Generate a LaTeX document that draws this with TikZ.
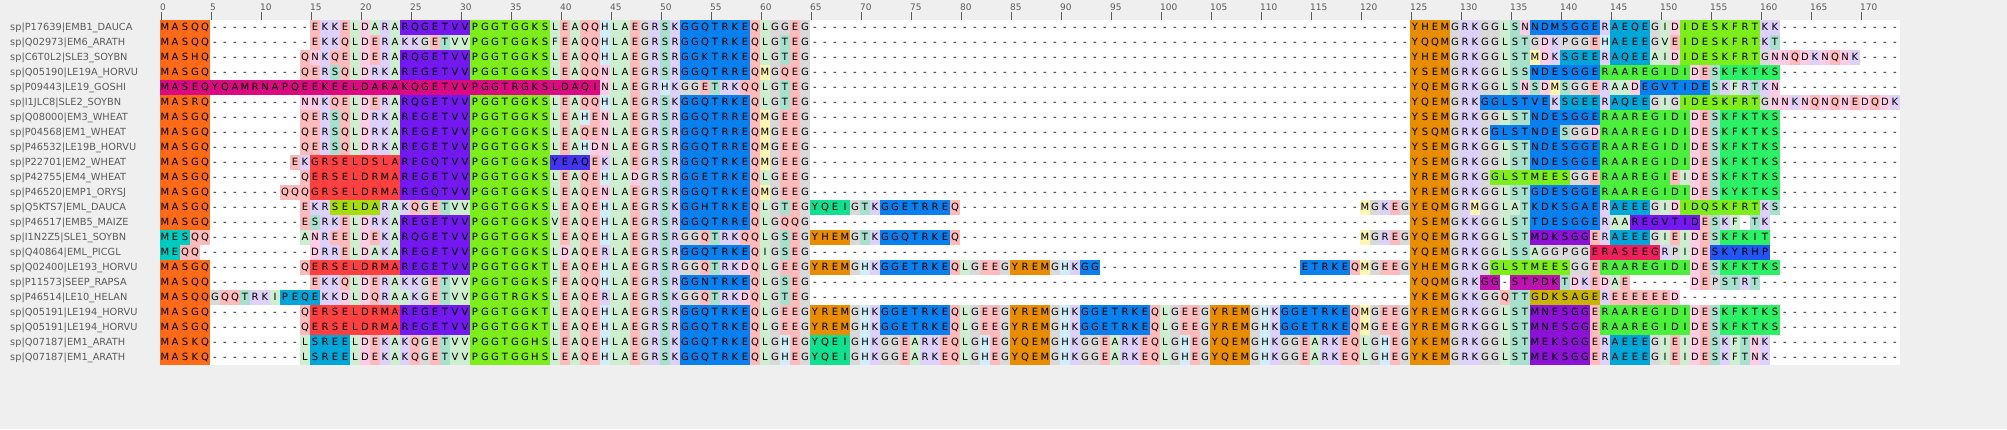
\documentclass[tikz,border=0pt]{standalone}
\usepackage{fontspec}
\setmainfont{DejaVu Sans}
% pastel residue colours
\definecolor{rcA}{HTML}{CDEFD0}\definecolor{rcI}{HTML}{CDEFD0}\definecolor{rcL}{HTML}{CDEFD0}
\definecolor{rcV}{HTML}{CDEFD0}\definecolor{rcF}{HTML}{CDEFD0}\definecolor{rcW}{HTML}{CDEFD0}
\definecolor{rcC}{HTML}{FFF0A0}
\definecolor{rcE}{HTML}{FFBBBB}\definecolor{rcQ}{HTML}{FFBBBB}
\definecolor{rcD}{HTML}{FFCCE5}\definecolor{rcN}{HTML}{FFCCE5}
\definecolor{rcK}{HTML}{DDD0FB}\definecolor{rcR}{HTML}{DDD0FB}
\definecolor{rcS}{HTML}{A8E0CE}\definecolor{rcT}{HTML}{A8E0CE}
\definecolor{rcG}{HTML}{D9D9D9}\definecolor{rcP}{HTML}{D9D9D9}
\definecolor{rcH}{HTML}{CFEEFA}\definecolor{rcM}{HTML}{FFF6B3}\definecolor{rcY}{HTML}{FFE4A0}
% block colours
\definecolor{bcO}{HTML}{FD6B18}\definecolor{bcV}{HTML}{7318EF}\definecolor{bcL}{HTML}{7DED1B}
\definecolor{bcB}{HTML}{0A80EE}\definecolor{bcM}{HTML}{DC0A80}\definecolor{bcT}{HTML}{00CBBF}
\definecolor{bcR}{HTML}{FF4040}\definecolor{bcY}{HTML}{A8DC0C}\definecolor{bcI}{HTML}{4434F0}
\definecolor{bcA}{HTML}{E88C00}\definecolor{bcC}{HTML}{00A6D8}\definecolor{bcG}{HTML}{4CF03C}
\definecolor{bcS}{HTML}{2CF066}\definecolor{bcP}{HTML}{8C12D6}\definecolor{bcK}{HTML}{F0205E}
\definecolor{bcU}{HTML}{2255F5}\definecolor{bcW}{HTML}{BF10B0}\definecolor{bcD}{HTML}{C9B300}
\definecolor{bcE}{HTML}{10E090}
\definecolor{bgc}{HTML}{EFEFEF}\definecolor{namegray}{HTML}{5A5A5A}
\newcount\colc \newcount\rowr \newcount\gcnt
\def\curcode{p}
\newcommand\resfnt{\fontsize{10}{12}\selectfont}
\def\drawcell#1{%
  \edef\xl{\the\numexpr160+10*\colc\relax}%
  \edef\xc{\the\numexpr165+10*\colc\relax}%
  \edef\yt{\the\numexpr20+15*\rowr\relax}%
  \if p\curcode\edef\fc{rc#1}\else\edef\fc{bc\curcode}\fi
  \if .\curcode\else\fill[fill=\fc] (\xl,\yt) rectangle ++(10,15);\fi
  \node[res] at (\xc,\yt+10.8) {#1};%
  \global\advance\colc by 1\relax}
\def\sg#1#2{\def\curcode{#1}\segloop#2\relax}
\def\segloop#1{\ifx#1\relax\else\drawcell{#1}\expandafter\segloop\fi}
\def\gp#1{\gcnt=#1\relax\gploop}
\def\gploop{\ifnum\gcnt>0 \def\curcode{.}\drawcell{-}\advance\gcnt by -1 \expandafter\gploop\fi}
\def\seqrow#1#2{\global\colc=0\relax\global\rowr=#1\relax
  \node[nm] (n#1) at (10,20+15*#1+10.8) {#2};}
\tikzset{res/.style={inner sep=0pt,anchor=base,font=\resfnt,text=black},
  nm/.style={inner sep=0pt,anchor=base west,font=\fontsize{9.8}{12}\selectfont,text=namegray},
  rl/.style={inner sep=0pt,anchor=base west,font=\fontsize{9}{11}\selectfont,text=namegray},
  tick/.style={draw=namegray,line width=1pt}}
\begin{document}
\begin{tikzpicture}[x=1pt,y=-1pt]
\useasboundingbox (0,0) rectangle (2007,429);
\fill[bgc] (0,0) rectangle (2007,429);
\fill[white] (160,20) rectangle (1900,365);
\foreach \i in {0,5,...,170}{
  \draw[tick] (161.5+10*\i,12) -- (161.5+10*\i,19.5);
  \node[rl] (t\i) at (160+10*\i,10) {\i};}
\seqrow{0}{sp|P17639|EMB1\_DAUCA}
\sg{O}{MASQQ}\gp{10}\sg{p}{EKKELDARA}\sg{V}{RQGETVV}\sg{L}{PGGTGGKS}\sg{p}{LEAQQHLAEGRSK}\sg{B}{GGQTRKE}\sg{p}{QLGGEG}\gp{60}\sg{A}{YHEM}\sg{p}{GRKGGLSN}\sg{B}{NDMSGGE}\sg{p}{R}\sg{C}{AEQE}\sg{p}{GID}\sg{L}{IDESKFRT}\sg{p}{KK}\gp{12}
\seqrow{1}{sp|Q02973|EM6\_ARATH}
\sg{O}{MASQQ}\gp{10}\sg{p}{EKKQLDERAKKGETVV}\sg{L}{PGGTGGKS}\sg{p}{FEAQQHLAEGRSR}\sg{B}{GGQTRKE}\sg{p}{QLGTEG}\gp{60}\sg{A}{YQQM}\sg{p}{GRKGGLSTGDKPGGEH}\sg{C}{AEEE}\sg{p}{GVE}\sg{L}{IDESKFRT}\sg{p}{KT}\gp{12}
\seqrow{2}{sp|C6T0L2|SLE3\_SOYBN}
\sg{O}{MASHQ}\gp{9}\sg{p}{QNKQELDERA}\sg{V}{RQGETVV}\sg{L}{PGGTGGKS}\sg{p}{LEAQQHLAEGRSR}\sg{B}{GGKTRKE}\sg{p}{QLGTEG}\gp{60}\sg{A}{YHEM}\sg{p}{GRKGGLSTMDK}\sg{C}{SGEE}\sg{p}{R}\sg{C}{AQEE}\sg{p}{AID}\sg{L}{IDESKFRT}\sg{p}{GNNQDKNQNK}\gp{4}
\seqrow{3}{sp|Q05190|LE19A\_HORVU}
\sg{O}{MASGQ}\gp{9}\sg{p}{QERSQLDRKA}\sg{V}{REGETVV}\sg{L}{PGGTGGKS}\sg{p}{LEAQQNLAEGRSR}\sg{B}{GGQTRRE}\sg{p}{QMGQEG}\gp{60}\sg{A}{YSEM}\sg{p}{GRKGGLSS}\sg{B}{NDESGGE}\sg{G}{RAAREGIDI}\sg{p}{DES}\sg{S}{KFKTKS}\gp{12}
\seqrow{4}{sp|P09443|LE19\_GOSHI}
\sg{M}{MASEQYQAMRNAPQEEKEELDARAKQGETVVPGGTRGKSLDAQI}\sg{p}{NLAEGRHKGGETRKQQLGTEG}\gp{60}\sg{A}{YQEM}\sg{p}{GRKGGLSNSDMSGGERAAD}\sg{B}{EGVTIDE}\sg{p}{SKFRTKN}\gp{12}
\seqrow{5}{sp|I1JLC8|SLE2\_SOYBN}
\sg{O}{MASRQ}\gp{9}\sg{p}{NNKQELDERA}\sg{V}{RQGETVV}\sg{L}{PGGTGGKS}\sg{p}{LEAQQHLAEGRSK}\sg{B}{GGQTRKE}\sg{p}{QLGTEG}\gp{60}\sg{A}{YQEM}\sg{p}{GRK}\sg{B}{GGLSTVE}\sg{p}{K}\sg{C}{SGEE}\sg{p}{R}\sg{C}{AQEE}\sg{p}{GIG}\sg{L}{IDESKFRT}\sg{p}{GNNKNQNQNEDQDK}
\seqrow{6}{sp|Q08000|EM3\_WHEAT}
\sg{O}{MASGQ}\gp{9}\sg{p}{QERSQLDRKA}\sg{V}{REGETVV}\sg{L}{PGGTGGKS}\sg{p}{LEAHENLAEGRSR}\sg{B}{GGQTRRE}\sg{p}{QMGEEG}\gp{60}\sg{A}{YSEM}\sg{p}{GRKGGLST}\sg{B}{NDESGGE}\sg{G}{RAAREGIDI}\sg{p}{DES}\sg{S}{KFKTKS}\gp{12}
\seqrow{7}{sp|P04568|EM1\_WHEAT}
\sg{O}{MASGQ}\gp{9}\sg{p}{QERSQLDRKA}\sg{V}{REGETVV}\sg{L}{PGGTGGKS}\sg{p}{LEAQENLAEGRSR}\sg{B}{GGQTRRE}\sg{p}{QMGEEG}\gp{60}\sg{A}{YSQM}\sg{p}{GRKG}\sg{B}{GLSTNDE}\sg{p}{SGGD}\sg{G}{RAAREGIDI}\sg{p}{DES}\sg{S}{KFKTKS}\gp{12}
\seqrow{8}{sp|P46532|LE19B\_HORVU}
\sg{O}{MASGQ}\gp{9}\sg{p}{QERSQLDRKA}\sg{V}{REGETVV}\sg{L}{PGGTGGKS}\sg{p}{LEAHDNLAEGRSR}\sg{B}{GGQTRRE}\sg{p}{QMGEEG}\gp{60}\sg{A}{YSEM}\sg{p}{GRKGGLST}\sg{B}{NDESGGE}\sg{G}{RAAREGIDI}\sg{p}{DES}\sg{S}{KFKTKS}\gp{12}
\seqrow{9}{sp|P22701|EM2\_WHEAT}
\sg{O}{MASGQ}\gp{8}\sg{p}{EK}\sg{R}{GRSELDSLA}\sg{V}{REGQTVV}\sg{L}{PGGTGGKS}\sg{I}{YEAQ}\sg{p}{EKLAEGRSR}\sg{B}{GGQTRKE}\sg{p}{QMGEEG}\gp{60}\sg{A}{YSEM}\sg{p}{GRKGGLST}\sg{B}{NDESGGE}\sg{G}{RAAREGIDI}\sg{p}{DES}\sg{S}{KFKTKS}\gp{12}
\seqrow{10}{sp|P42755|EM4\_WHEAT}
\sg{O}{MASGQ}\gp{9}\sg{p}{Q}\sg{R}{ERSELDRMA}\sg{V}{REGETVV}\sg{L}{PGGTGGKS}\sg{p}{LEAQEHLADGRSR}\sg{B}{GGETRKE}\sg{p}{QLGEEG}\gp{60}\sg{A}{YREM}\sg{p}{GRKG}\sg{L}{GLSTMEES}\sg{p}{GGE}\sg{G}{RAAREGI}\sg{p}{EIDES}\sg{S}{KFKTKS}\gp{12}
\seqrow{11}{sp|P46520|EMP1\_ORYSJ}
\sg{O}{MASGQ}\gp{7}\sg{p}{QQQ}\sg{R}{GRSELDRMA}\sg{V}{REGQTVV}\sg{L}{PGGTGGKS}\sg{p}{LEAQENLAEGRSR}\sg{B}{GGQTRKE}\sg{p}{QMGEEG}\gp{60}\sg{A}{YREM}\sg{p}{GRKGGLST}\sg{B}{GDESGGE}\sg{G}{RAAREGIDI}\sg{p}{DES}\sg{S}{KYKTKS}\gp{12}
\seqrow{12}{sp|Q5KTS7|EML\_DAUCA}
\sg{O}{MASGQ}\gp{9}\sg{p}{EKR}\sg{Y}{SELDA}\sg{p}{RAKQGETVV}\sg{L}{PGGTGGKS}\sg{p}{LEAQEHLAEGRSK}\sg{B}{GGHTRKE}\sg{p}{QLGTEG}\sg{E}{YQEI}\sg{p}{GTK}\sg{B}{GGETRRE}\sg{p}{Q}\gp{40}\sg{p}{MGKEG}\sg{A}{YEQM}\sg{p}{GRMGGLAT}\sg{B}{KDKSGAE}\sg{p}{R}\sg{C}{AEEE}\sg{p}{GID}\sg{L}{IDQSKFRT}\sg{p}{KS}\gp{12}
\seqrow{13}{sp|P46517|EMB5\_MAIZE}
\sg{O}{MASGQ}\gp{9}\sg{p}{ESRKELDRKA}\sg{V}{REGETVV}\sg{L}{PGGTGGKS}\sg{p}{VEAQEHLAEGRSR}\sg{B}{GGQTRRE}\sg{p}{QLGQQG}\gp{60}\sg{A}{YSEM}\sg{p}{GKKGGLST}\sg{B}{TDESGGE}\sg{p}{RAA}\sg{V}{REGVTID}\sg{p}{ESKF}\gp{1}\sg{p}{TK}\gp{13}
\seqrow{14}{sp|I1N2Z5|SLE1\_SOYBN}
\sg{T}{MES}\sg{p}{QQ}\gp{9}\sg{p}{ANREELDEKA}\sg{V}{RQGETVV}\sg{L}{PGGTGGKS}\sg{p}{LEAQEHLAEGRSRGGQTRKQQLGSEG}\sg{A}{YHEM}\sg{p}{GTK}\sg{B}{GGQTRKE}\sg{p}{Q}\gp{40}\sg{p}{MGREG}\sg{A}{YQEM}\sg{p}{GRKGGLST}\sg{P}{MDKSGG}\sg{p}{ER}\sg{C}{AEEE}\sg{p}{GIEIDES}\sg{S}{KFKIT}\gp{13}
\seqrow{15}{sp|Q40864|EML\_PICGL}
\sg{T}{ME}\sg{p}{QQ}\gp{11}\sg{p}{DRRELDAKA}\sg{V}{REGETVV}\sg{L}{PGGTGGKS}\sg{p}{LDAQERLAEGRSR}\sg{B}{GGQTRKE}\sg{p}{QIGSEG}\gp{60}\sg{A}{YQEM}\sg{p}{GRKGGLSSAGGPGG}\sg{K}{ERASEEG}\sg{p}{RPIDE}\sg{U}{SKYRHP}\gp{13}
\seqrow{16}{sp|Q02400|LE193\_HORVU}
\sg{O}{MASGQ}\gp{9}\sg{p}{Q}\sg{R}{ERSELDRMA}\sg{V}{REGETVV}\sg{L}{PGGTGGKT}\sg{p}{LEAQEHLAEGRSRGGQTRKDQLGEEG}\sg{A}{YREM}\sg{p}{GHK}\sg{B}{GGETRKE}\sg{p}{QLGEEG}\sg{A}{YREM}\sg{p}{GHK}\sg{B}{GG}\gp{20}\sg{B}{ETRKE}\sg{p}{QMGEEG}\sg{A}{YHEM}\sg{p}{GRKG}\sg{L}{GLSTMEES}\sg{p}{GGE}\sg{G}{RAAREGIDI}\sg{p}{DES}\sg{S}{KFKTKS}\gp{12}
\seqrow{17}{sp|P11573|SEEP\_RAPSA}
\sg{O}{MASQQ}\gp{10}\sg{p}{EKKQLDERAKKGETVV}\sg{L}{PGGTGGKS}\sg{p}{FEAQQHLAEGRSR}\sg{B}{GGNTRKE}\sg{p}{QLGSEG}\gp{60}\sg{A}{YQQM}\sg{p}{GRK}\sg{W}{GG}\gp{1}\sg{W}{STPDK}\sg{p}{TDKEDAE}\gp{6}\sg{p}{DEPSTRT}\gp{14}
\seqrow{18}{sp|P46514|LE10\_HELAN}
\sg{O}{MASQQ}\sg{p}{GQQTRKI}\sg{C}{PEQE}\sg{p}{KKDLDQRAAKGETVV}\sg{L}{PGGTRGKS}\sg{p}{LEAQERLAEGRSKGGQTRKDQLGTEG}\gp{60}\sg{A}{YKEM}\sg{p}{GKKGGQTT}\sg{D}{GDKSAGE}\sg{p}{REEEEEED}\gp{22}
\seqrow{19}{sp|Q05191|LE194\_HORVU}
\sg{O}{MASGQ}\gp{9}\sg{p}{Q}\sg{R}{ERSELDRMA}\sg{V}{REGETVV}\sg{L}{PGGTGGKT}\sg{p}{LEAQEHLAEGRSR}\sg{B}{GGQTRKE}\sg{p}{QLGEEG}\sg{A}{YREM}\sg{p}{GHK}\sg{B}{GGETRKE}\sg{p}{QLGEEG}\sg{A}{YREM}\sg{p}{GHK}\sg{B}{GGETRKE}\sg{p}{QLGEEG}\sg{A}{YREM}\sg{p}{GHK}\sg{B}{GGETRKE}\sg{p}{QMGEEG}\sg{A}{YREM}\sg{p}{GRKGGLST}\sg{P}{MNESGG}\sg{p}{E}\sg{G}{RAAREGIDI}\sg{p}{DES}\sg{S}{KFKTKS}\gp{12}
\seqrow{20}{sp|Q05191|LE194\_HORVU}
\sg{O}{MASGQ}\gp{9}\sg{p}{Q}\sg{R}{ERSELDRMA}\sg{V}{REGETVV}\sg{L}{PGGTGGKT}\sg{p}{LEAQEHLAEGRSR}\sg{B}{GGQTRKE}\sg{p}{QLGEEG}\sg{A}{YREM}\sg{p}{GHK}\sg{B}{GGETRKE}\sg{p}{QLGEEG}\sg{A}{YREM}\sg{p}{GHK}\sg{B}{GGETRKE}\sg{p}{QLGEEG}\sg{A}{YREM}\sg{p}{GHK}\sg{B}{GGETRKE}\sg{p}{QMGEEG}\sg{A}{YREM}\sg{p}{GRKGGLST}\sg{P}{MNESGG}\sg{p}{E}\sg{G}{RAAREGIDI}\sg{p}{DES}\sg{S}{KFKTKS}\gp{12}
\seqrow{21}{sp|Q07187|EM1\_ARATH}
\sg{O}{MASKQ}\gp{9}\sg{p}{L}\sg{C}{SREE}\sg{p}{LDEKAKQGETVV}\sg{L}{PGGTGGHS}\sg{p}{LEAQEHLAEGRSK}\sg{B}{GGQTRKE}\sg{p}{QLGHEG}\sg{E}{YQEI}\sg{p}{GHKGGEARKEQLGHEG}\sg{A}{YQEM}\sg{p}{GHKGGEARKEQLGHEG}\sg{A}{YQEM}\sg{p}{GHKGGEARKEQLGHEG}\sg{A}{YKEM}\sg{p}{GRKGGLST}\sg{P}{MEKSGG}\sg{p}{ER}\sg{C}{AEEE}\sg{p}{GIEIDESKFTNK}\gp{13}
\seqrow{22}{sp|Q07187|EM1\_ARATH}
\sg{O}{MASKQ}\gp{9}\sg{p}{L}\sg{C}{SREE}\sg{p}{LDEKAKQGETVV}\sg{L}{PGGTGGHS}\sg{p}{LEAQEHLAEGRSK}\sg{B}{GGQTRKE}\sg{p}{QLGHEG}\sg{E}{YQEI}\sg{p}{GHKGGEARKEQLGHEG}\sg{A}{YQEM}\sg{p}{GHKGGEARKEQLGHEG}\sg{A}{YQEM}\sg{p}{GHKGGEARKEQLGHEG}\sg{A}{YKEM}\sg{p}{GRKGGLST}\sg{P}{MEKSGG}\sg{p}{ER}\sg{C}{AEEE}\sg{p}{GIEIDESKFTNK}\gp{13}
\end{tikzpicture}
\end{document}
